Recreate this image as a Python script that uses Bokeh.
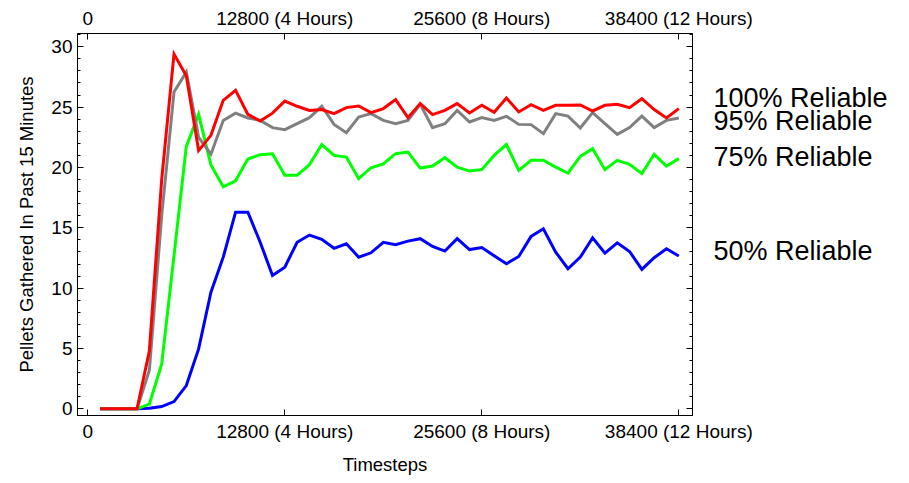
from bokeh.plotting import figure
from bokeh.models import LinearAxis, FixedTicker, Range1d
from bokeh.embed import file_html
from bokeh.resources import INLINE

timesteps = [800 * k for k in range(1, 49)]

rel_100 = [0, 0, 0, 0, 4.8, 19.0, 29.4, 27.6, 21.4, 22.66, 25.56, 26.4, 24.4, 23.85, 24.5, 25.5,
           25.07, 24.73, 24.8, 24.46, 24.96, 25.09, 24.54, 24.88, 25.62, 24.13, 25.29, 24.38, 24.73, 25.29,
           24.51, 25.15, 24.57, 25.76, 24.6, 25.2, 24.73, 25.15, 25.15, 25.18, 24.68, 25.15, 25.23, 24.96,
           25.7, 24.8, 24.1, 24.88]
rel_95 = [0, 0, 0, 0, 3.2, 16.0, 26.25, 27.9, 22.5, 21.1, 23.9, 24.5, 24.1, 23.9, 23.3, 23.13,
          23.63, 24.13, 25.07, 23.57, 22.88, 24.18, 24.46, 23.9, 23.63, 23.9, 25.23, 23.3, 23.63, 24.73,
          23.77, 24.13, 23.9, 24.24, 23.57, 23.55, 22.8, 24.46, 24.26, 23.27, 24.54, 23.63, 22.74, 23.3,
          24.26, 23.3, 23.9, 24.1]
rel_75 = [0, 0, 0, 0, 0.4, 3.7, 12.7, 21.75, 24.4, 20.2, 18.4, 18.9, 20.7, 21.06, 21.14, 19.35,
          19.35, 20.23, 21.9, 21.0, 20.86, 19.07, 19.98, 20.3, 21.14, 21.28, 19.95, 20.12, 20.81, 20.03,
          19.7, 19.82, 21.0, 21.9, 19.76, 20.6, 20.6, 20.03, 19.54, 20.92, 21.56, 19.82, 20.59, 20.26,
          19.49, 21.09, 20.12, 20.73]
rel_50 = [0, 0, 0, 0, 0.05, 0.19, 0.6, 1.93, 4.97, 9.67, 12.57, 16.3, 16.3, 13.8, 11.05, 11.74,
          13.8, 14.4, 14.04, 13.3, 13.68, 12.57, 12.93, 13.8, 13.6, 13.9, 14.1, 13.46, 13.07, 14.1,
          13.2, 13.37, 12.68, 12.02, 12.63, 14.29, 14.92, 12.99, 11.61, 12.57, 14.18, 12.9, 13.76, 13.04,
          11.55, 12.52, 13.27, 12.66]

series_names = ["100% Reliable", "95% Reliable", "75% Reliable", "50% Reliable"]
series_colors = ["#ff0000", "#808080", "#00ff00", "#0000ff"]

x_ticks = [0, 12800, 25600, 38400]
x_tick_labels = ["0", "12800 (4 Hours)", "25600 (8 Hours)", "38400 (12 Hours)"]
y_ticks = [0, 5, 10, 15, 20, 25, 30]

# vertical centres of the series name labels (layout only)
label_y = [25.77, 23.82, 20.84, 13.04]

FONT = "Liberation Sans"

p = figure(width=909, height=483, output_backend="svg", toolbar_location=None,
           x_range=Range1d(-670, 39290), y_range=Range1d(-0.55, 31.1),
           min_border_left=77, min_border_right=217, min_border_top=33, min_border_bottom=68,
           x_axis_label="Timesteps", y_axis_label="Pellets Gathered In Past 15 Minutes")
p.grid.visible = False
p.outline_line_color = "black"
p.background_fill_color = "white"
p.border_fill_color = "white"

for ys, c in zip([rel_50, rel_75, rel_95, rel_100], series_colors[::-1]):
    p.line(timesteps, ys, line_color=c, line_width=3, line_join="miter")

top = LinearAxis()
right = LinearAxis()
p.add_layout(top, "above")
p.add_layout(right, "right")

overrides = {t: l for t, l in zip(x_ticks, x_tick_labels)}
for ax in p.xaxis:
    ax.ticker = FixedTicker(ticks=x_ticks, minor_ticks=[])
    ax.major_label_overrides = overrides

for ax in [p.yaxis[0], right]:
    ax.ticker = FixedTicker(ticks=y_ticks, minor_ticks=list(range(0, 32)))

for ax in p.xaxis + [p.yaxis[0], right]:
    ax.major_tick_in = 6
    ax.major_tick_out = 0
    ax.minor_tick_in = 3
    ax.minor_tick_out = 0
    ax.axis_line_color = "black"
    ax.major_tick_line_color = "black"
    ax.minor_tick_line_color = "black"
    ax.major_label_text_font = FONT
    ax.major_label_text_font_size = "19px"
    ax.major_label_text_color = "black"
    ax.major_label_standoff = 5
    ax.axis_label_text_font = FONT
    ax.axis_label_text_font_size = "18.5px"
    ax.axis_label_text_font_style = "normal"
    ax.axis_label_text_color = "black"
    ax.axis_label_standoff = 9

p.yaxis[0].axis_label_standoff = 11
right.major_label_text_font_size = "0px"
right.major_label_text_color = None
right.major_label_standoff = 0

# series name labels drawn as a tick-less axis on the right
names_axis = LinearAxis(ticker=FixedTicker(ticks=label_y, minor_ticks=[]),
                        major_label_overrides={y: n for y, n in zip(label_y, series_names)})
names_axis.axis_line_color = None
names_axis.major_tick_line_color = None
names_axis.minor_tick_line_color = None
names_axis.major_tick_in = 0
names_axis.major_tick_out = 0
names_axis.major_label_standoff = 21
names_axis.major_label_text_font = FONT
names_axis.major_label_text_font_size = "27px"
names_axis.major_label_text_color = "black"
p.add_layout(names_axis, "right")

open("out.html", "w").write(file_html(p, INLINE))
